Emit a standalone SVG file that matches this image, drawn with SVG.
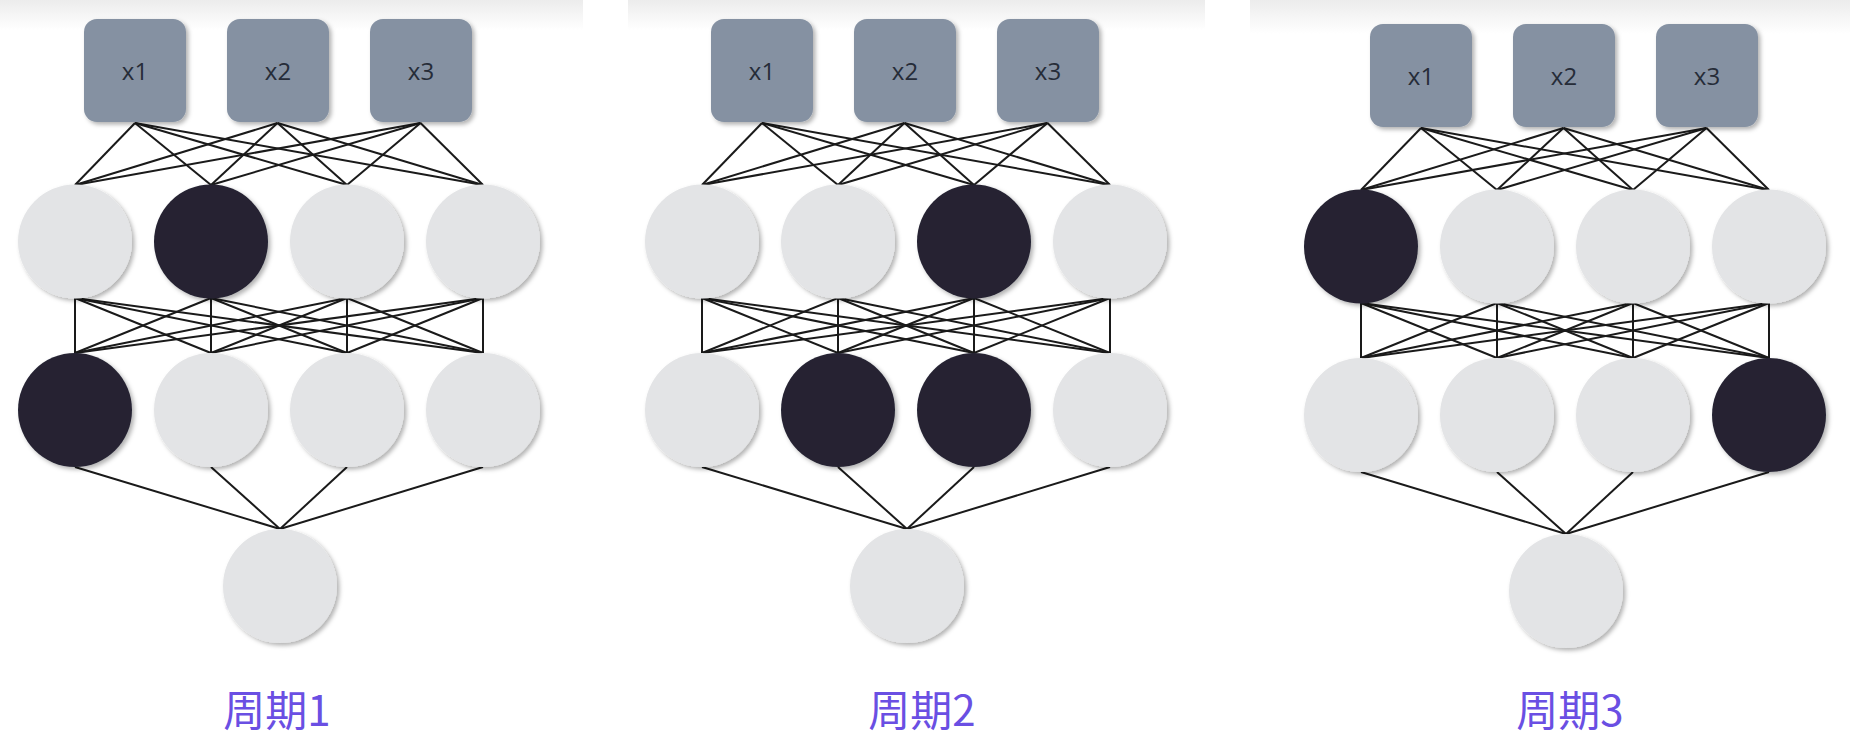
<svg xmlns="http://www.w3.org/2000/svg" width="1850" height="750" viewBox="0 0 1850 750">
<defs>
<linearGradient id="topfade" x1="0" y1="0" x2="0" y2="1">
<stop offset="0" stop-color="#ececec"/>
<stop offset="1" stop-color="#ffffff"/>
</linearGradient>
<filter id="sh" x="-20%" y="-20%" width="150%" height="150%">
<feDropShadow dx="2.5" dy="2.5" stdDeviation="2" flood-color="#000" flood-opacity="0.3"/>
</filter>
</defs>
<style>
.box{fill:#8591a2;filter:url(#sh)}
.bt{font-family:"Open Sans","Liberation Sans",sans-serif;font-size:24px;fill:#262c38;text-anchor:middle}
.lt{fill:#e3e4e6;filter:url(#sh)}
.dk{fill:#252433;filter:url(#sh)}
.edges line{stroke:#1a1a1a;stroke-width:2}
.lbl{font-family:"Noto Sans CJK SC","Noto Sans",sans-serif;font-size:42px;fill:#6a4fe3;text-anchor:middle}
</style>
<rect x="0" y="0" width="1850" height="750" fill="#ffffff"/>
<rect x="0" y="0" width="583" height="30" fill="url(#topfade)"/>
<rect x="628" y="0" width="577" height="30" fill="url(#topfade)"/>
<rect x="1250" y="0" width="600" height="34" fill="url(#topfade)"/>

<!-- Panel 1 -->
<g id="panel1">
<g id="p1-edges" class="edges">
<line x1="135" y1="123" x2="75" y2="185"/><line x1="135" y1="123" x2="211" y2="185"/><line x1="135" y1="123" x2="347" y2="185"/><line x1="135" y1="123" x2="483" y2="185"/>
<line x1="277.5" y1="123" x2="75" y2="185"/><line x1="277.5" y1="123" x2="211" y2="185"/><line x1="277.5" y1="123" x2="347" y2="185"/><line x1="277.5" y1="123" x2="483" y2="185"/>
<line x1="420.5" y1="123" x2="75" y2="185"/><line x1="420.5" y1="123" x2="211" y2="185"/><line x1="420.5" y1="123" x2="347" y2="185"/><line x1="420.5" y1="123" x2="483" y2="185"/>
<line x1="75" y1="298" x2="75" y2="353"/><line x1="75" y1="298" x2="211" y2="353"/><line x1="75" y1="298" x2="347" y2="353"/><line x1="75" y1="298" x2="483" y2="353"/>
<line x1="211" y1="298" x2="75" y2="353"/><line x1="211" y1="298" x2="211" y2="353"/><line x1="211" y1="298" x2="347" y2="353"/><line x1="211" y1="298" x2="483" y2="353"/>
<line x1="347" y1="298" x2="75" y2="353"/><line x1="347" y1="298" x2="211" y2="353"/><line x1="347" y1="298" x2="347" y2="353"/><line x1="347" y1="298" x2="483" y2="353"/>
<line x1="483" y1="298" x2="75" y2="353"/><line x1="483" y1="298" x2="211" y2="353"/><line x1="483" y1="298" x2="347" y2="353"/><line x1="483" y1="298" x2="483" y2="353"/>
<line x1="75" y1="467" x2="280" y2="529"/><line x1="211" y1="467" x2="280" y2="529"/><line x1="347" y1="467" x2="280" y2="529"/><line x1="483" y1="467" x2="280" y2="529"/>
</g>
<g id="p1-x1"><rect class="box" x="84" y="19" width="102" height="103" rx="13"/><text class="bt" x="135" y="80">x1</text></g>
<g id="p1-x2"><rect class="box" x="227" y="19" width="102" height="103" rx="13"/><text class="bt" x="278" y="80">x2</text></g>
<g id="p1-x3"><rect class="box" x="370" y="19" width="102" height="103" rx="13"/><text class="bt" x="421" y="80">x3</text></g>
<g id="p1-h11"><circle class="lt" cx="75" cy="241.5" r="57"/></g>
<g id="p1-h12"><circle class="dk" cx="211" cy="241.5" r="57"/></g>
<g id="p1-h13"><circle class="lt" cx="347" cy="241.5" r="57"/></g>
<g id="p1-h14"><circle class="lt" cx="483" cy="241.5" r="57"/></g>
<g id="p1-h21"><circle class="dk" cx="75" cy="410" r="57"/></g>
<g id="p1-h22"><circle class="lt" cx="211" cy="410" r="57"/></g>
<g id="p1-h23"><circle class="lt" cx="347" cy="410" r="57"/></g>
<g id="p1-h24"><circle class="lt" cx="483" cy="410" r="57"/></g>
<g id="p1-out"><circle class="lt" cx="280" cy="586" r="57"/></g>
<g id="p1-label"><text class="lbl" x="277" y="726">周期1</text></g>
</g>

<!-- Panel 2 -->
<g id="panel2" transform="translate(627,0)">
<g id="p2-edges" class="edges">
<line x1="135" y1="123" x2="75" y2="185"/><line x1="135" y1="123" x2="211" y2="185"/><line x1="135" y1="123" x2="347" y2="185"/><line x1="135" y1="123" x2="483" y2="185"/>
<line x1="277.5" y1="123" x2="75" y2="185"/><line x1="277.5" y1="123" x2="211" y2="185"/><line x1="277.5" y1="123" x2="347" y2="185"/><line x1="277.5" y1="123" x2="483" y2="185"/>
<line x1="420.5" y1="123" x2="75" y2="185"/><line x1="420.5" y1="123" x2="211" y2="185"/><line x1="420.5" y1="123" x2="347" y2="185"/><line x1="420.5" y1="123" x2="483" y2="185"/>
<line x1="75" y1="298" x2="75" y2="353"/><line x1="75" y1="298" x2="211" y2="353"/><line x1="75" y1="298" x2="347" y2="353"/><line x1="75" y1="298" x2="483" y2="353"/>
<line x1="211" y1="298" x2="75" y2="353"/><line x1="211" y1="298" x2="211" y2="353"/><line x1="211" y1="298" x2="347" y2="353"/><line x1="211" y1="298" x2="483" y2="353"/>
<line x1="347" y1="298" x2="75" y2="353"/><line x1="347" y1="298" x2="211" y2="353"/><line x1="347" y1="298" x2="347" y2="353"/><line x1="347" y1="298" x2="483" y2="353"/>
<line x1="483" y1="298" x2="75" y2="353"/><line x1="483" y1="298" x2="211" y2="353"/><line x1="483" y1="298" x2="347" y2="353"/><line x1="483" y1="298" x2="483" y2="353"/>
<line x1="75" y1="467" x2="280" y2="529"/><line x1="211" y1="467" x2="280" y2="529"/><line x1="347" y1="467" x2="280" y2="529"/><line x1="483" y1="467" x2="280" y2="529"/>
</g>
<g id="p2-x1"><rect class="box" x="84" y="19" width="102" height="103" rx="13"/><text class="bt" x="135" y="80">x1</text></g>
<g id="p2-x2"><rect class="box" x="227" y="19" width="102" height="103" rx="13"/><text class="bt" x="278" y="80">x2</text></g>
<g id="p2-x3"><rect class="box" x="370" y="19" width="102" height="103" rx="13"/><text class="bt" x="421" y="80">x3</text></g>
<g id="p2-h11"><circle class="lt" cx="75" cy="241.5" r="57"/></g>
<g id="p2-h12"><circle class="lt" cx="211" cy="241.5" r="57"/></g>
<g id="p2-h13"><circle class="dk" cx="347" cy="241.5" r="57"/></g>
<g id="p2-h14"><circle class="lt" cx="483" cy="241.5" r="57"/></g>
<g id="p2-h21"><circle class="lt" cx="75" cy="410" r="57"/></g>
<g id="p2-h22"><circle class="dk" cx="211" cy="410" r="57"/></g>
<g id="p2-h23"><circle class="dk" cx="347" cy="410" r="57"/></g>
<g id="p2-h24"><circle class="lt" cx="483" cy="410" r="57"/></g>
<g id="p2-out"><circle class="lt" cx="280" cy="586" r="57"/></g>
<g id="p2-label"><text class="lbl" x="295" y="726">周期2</text></g>
</g>

<!-- Panel 3 -->
<g id="panel3" transform="translate(1286,5)">
<g id="p3-edges" class="edges">
<line x1="135" y1="123" x2="75" y2="185"/><line x1="135" y1="123" x2="211" y2="185"/><line x1="135" y1="123" x2="347" y2="185"/><line x1="135" y1="123" x2="483" y2="185"/>
<line x1="277.5" y1="123" x2="75" y2="185"/><line x1="277.5" y1="123" x2="211" y2="185"/><line x1="277.5" y1="123" x2="347" y2="185"/><line x1="277.5" y1="123" x2="483" y2="185"/>
<line x1="420.5" y1="123" x2="75" y2="185"/><line x1="420.5" y1="123" x2="211" y2="185"/><line x1="420.5" y1="123" x2="347" y2="185"/><line x1="420.5" y1="123" x2="483" y2="185"/>
<line x1="75" y1="298" x2="75" y2="353"/><line x1="75" y1="298" x2="211" y2="353"/><line x1="75" y1="298" x2="347" y2="353"/><line x1="75" y1="298" x2="483" y2="353"/>
<line x1="211" y1="298" x2="75" y2="353"/><line x1="211" y1="298" x2="211" y2="353"/><line x1="211" y1="298" x2="347" y2="353"/><line x1="211" y1="298" x2="483" y2="353"/>
<line x1="347" y1="298" x2="75" y2="353"/><line x1="347" y1="298" x2="211" y2="353"/><line x1="347" y1="298" x2="347" y2="353"/><line x1="347" y1="298" x2="483" y2="353"/>
<line x1="483" y1="298" x2="75" y2="353"/><line x1="483" y1="298" x2="211" y2="353"/><line x1="483" y1="298" x2="347" y2="353"/><line x1="483" y1="298" x2="483" y2="353"/>
<line x1="75" y1="467" x2="280" y2="529"/><line x1="211" y1="467" x2="280" y2="529"/><line x1="347" y1="467" x2="280" y2="529"/><line x1="483" y1="467" x2="280" y2="529"/>
</g>
<g id="p3-x1"><rect class="box" x="84" y="19" width="102" height="103" rx="13"/><text class="bt" x="135" y="80">x1</text></g>
<g id="p3-x2"><rect class="box" x="227" y="19" width="102" height="103" rx="13"/><text class="bt" x="278" y="80">x2</text></g>
<g id="p3-x3"><rect class="box" x="370" y="19" width="102" height="103" rx="13"/><text class="bt" x="421" y="80">x3</text></g>
<g id="p3-h11"><circle class="dk" cx="75" cy="241.5" r="57"/></g>
<g id="p3-h12"><circle class="lt" cx="211" cy="241.5" r="57"/></g>
<g id="p3-h13"><circle class="lt" cx="347" cy="241.5" r="57"/></g>
<g id="p3-h14"><circle class="lt" cx="483" cy="241.5" r="57"/></g>
<g id="p3-h21"><circle class="lt" cx="75" cy="410" r="57"/></g>
<g id="p3-h22"><circle class="lt" cx="211" cy="410" r="57"/></g>
<g id="p3-h23"><circle class="lt" cx="347" cy="410" r="57"/></g>
<g id="p3-h24"><circle class="dk" cx="483" cy="410" r="57"/></g>
<g id="p3-out"><circle class="lt" cx="280" cy="586" r="57"/></g>
<g id="p3-label"><text class="lbl" x="284" y="721">周期3</text></g>
</g>
</svg>
